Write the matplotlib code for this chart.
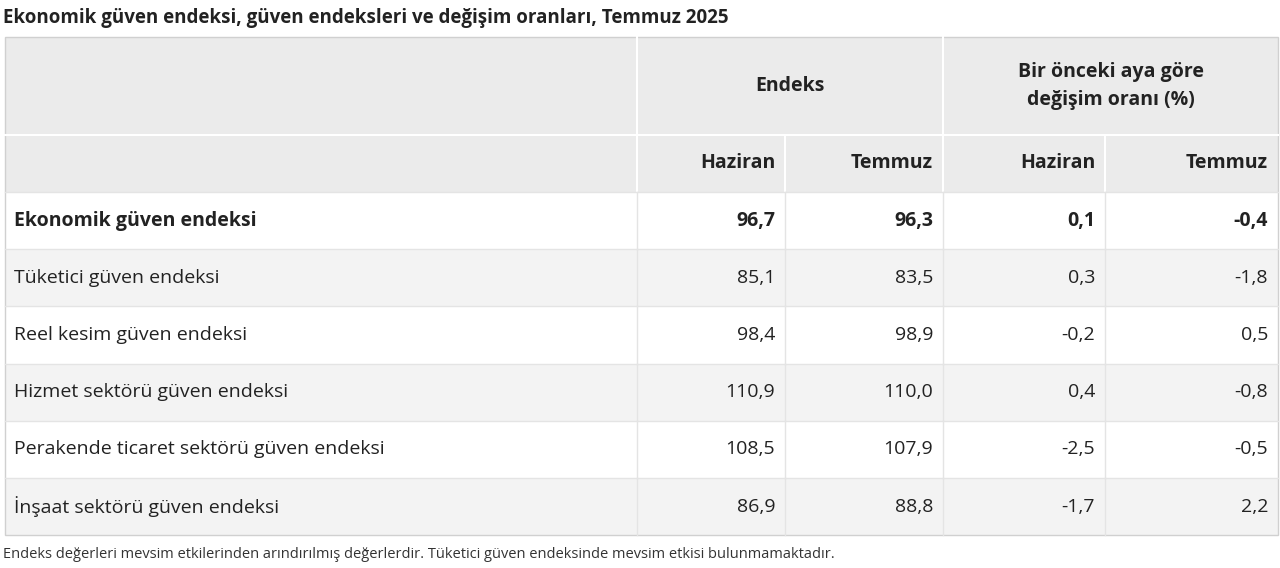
import matplotlib
matplotlib.use("Agg")
import matplotlib.pyplot as plt
from matplotlib.patches import Rectangle

plt.rcParams['font.family'] = ['Open Sans', 'DejaVu Sans']

title = "Ekonomik güven endeksi, güven endeksleri ve değişim oranları, Temmuz 2025"
footnote = ("Endeks değerleri mevsim etkilerinden arındırılmış değerlerdir. "
            "Tüketici güven endeksinde mevsim etkisi bulunmamaktadır.")
group_labels = ["Endeks", "Bir önceki aya göre\ndeğişim oranı (%)"]
sub_labels = ["Haziran", "Temmuz", "Haziran", "Temmuz"]
rows = ["Ekonomik güven endeksi", "Tüketici güven endeksi", "Reel kesim güven endeksi",
        "Hizmet sektörü güven endeksi", "Perakende ticaret sektörü güven endeksi",
        "İnşaat sektörü güven endeksi"]
endeks_haz = ["96,7", "85,1", "98,4", "110,9", "108,5", "86,9"]
endeks_tem = ["96,3", "83,5", "98,9", "110,0", "107,9", "88,8"]
degisim_haz = ["0,1", "0,3", "-0,2", "0,4", "-2,5", "-1,7"]
degisim_tem = ["-0,4", "-1,8", "0,5", "-0,8", "-0,5", "2,2"]

W, H = 1280, 568
fig = plt.figure(figsize=(W / 100, H / 100), dpi=100)
ax = fig.add_axes([0, 0, 1, 1])
ax.set_xlim(0, W)
ax.set_ylim(H, 0)
ax.axis("off")

cols = [5, 637, 785, 943, 1105, 1278]
head1 = (37, 135)
head2 = (135, 192)
row_h = 57.2
hdr_bg = "#ebebeb"
alt_bg = "#f3f3f3"
txt = "#222222"
fs = 14

ax.text(3, 18, title, fontsize=13.5, fontweight="bold", va="center", color=txt)

# header backgrounds
ax.add_patch(Rectangle((cols[0], head1[0]), cols[-1] - cols[0], head2[1] - head1[0],
                       facecolor=hdr_bg, edgecolor="none"))
for x in cols[1:-1]:
    y0 = head1[0] if x in (cols[1], cols[3]) else head2[0]
    ax.plot([x, x], [y0, head2[1]], color="white", lw=1.5)
ax.plot([cols[0], cols[-1]], [head2[0], head2[0]], color="white", lw=1.5)

# group headers
ax.text((cols[1] + cols[3]) / 2, sum(head1) / 2, group_labels[0], ha="center", va="center",
        fontsize=fs, fontweight="bold", color=txt)
ax.text((cols[3] + cols[5]) / 2, sum(head1) / 2, group_labels[1], ha="center", va="center",
        fontsize=fs, fontweight="bold", color=txt, linespacing=1.5)
for i, lab in enumerate(sub_labels):
    ax.text(cols[i + 2] - 10, sum(head2) / 2, lab, ha="right", va="center",
            fontsize=fs, fontweight="bold", color=txt)

# data rows
for r, name in enumerate(rows):
    y0 = head2[1] + r * row_h
    bg = "white" if r % 2 == 0 else alt_bg
    ax.add_patch(Rectangle((cols[0], y0), cols[-1] - cols[0], row_h, facecolor=bg,
                           edgecolor="none"))
    ax.plot([cols[0], cols[-1]], [y0, y0], color="#e4e4e4", lw=1)
    for x in cols[1:-1]:
        ax.plot([x, x], [y0, y0 + row_h], color="#e4e4e4", lw=1)
    wt = "bold" if r == 0 else "normal"
    yc = y0 + row_h / 2
    ax.text(cols[0] + 9, yc, name, va="center", fontsize=fs, fontweight=wt, color=txt)
    vals = [endeks_haz[r], endeks_tem[r], degisim_haz[r], degisim_tem[r]]
    for i, v in enumerate(vals):
        ax.text(cols[i + 2] - 10, yc, v, ha="right", va="center", fontsize=fs,
                fontweight=wt, color=txt)

bottom = head2[1] + len(rows) * row_h
ax.add_patch(Rectangle((cols[0], head1[0]), cols[-1] - cols[0], bottom - head1[0],
                       facecolor="none", edgecolor="#d0d0d0", lw=1))

ax.text(3, 554, footnote, fontsize=10.5, va="center", color="#333333")

fig.savefig("out.png", dpi=100)
